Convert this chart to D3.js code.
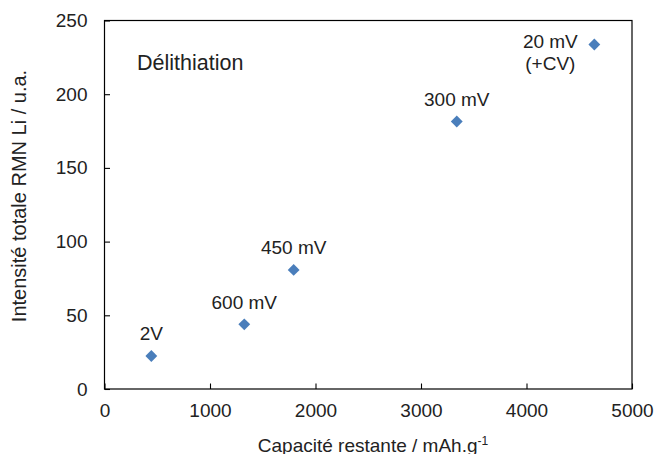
<!DOCTYPE html>
<html>
<head>
<meta charset="utf-8">
<script src="https://cdn.jsdelivr.net/npm/d3@7"></script>
<style>
  body { margin: 0; background: #fff; }
  svg text { font-family: "Liberation Sans", Arial, sans-serif; fill: #222; }
</style>
</head>
<body>
<svg width="654" height="454"></svg>
<script>
// capacity (mAh/g) vs total Li NMR intensity, one point per potential
var capacite  = [444, 1325, 1793, 3339, 4643];
var intensite = [22.4, 43.9, 80.8, 181.5, 233.7];
var labels    = ["2V", "600 mV", "450 mV", "300 mV", "20 mV\n(+CV)"];

var xTicks = [0, 1000, 2000, 3000, 4000, 5000];
var yTicks = [0, 50, 100, 150, 200, 250];

var svg = d3.select("svg");

var plotL = 104.5, plotR = 632, plotT = 20.5, plotB = 389;

var x = d3.scaleLinear().domain([0, 5000]).range([plotL, plotR]);
var y = d3.scaleLinear().domain([0, 250]).range([plotB, plotT]);

// axes (ticks inside the box)
var gx = svg.append("g")
    .attr("transform", "translate(0," + plotB + ")")
    .call(d3.axisBottom(x).tickValues(xTicks).tickFormat(d3.format("d"))
      .tickSizeInner(-5.5).tickSizeOuter(0).tickPadding(15));
var gy = svg.append("g")
    .attr("transform", "translate(" + plotL + ",0)")
    .call(d3.axisLeft(y).tickValues(yTicks).tickFormat(d3.format("d"))
      .tickSizeInner(-5.5).tickSizeOuter(0).tickPadding(17));

[gx, gy].forEach(function(g) {
  g.select(".domain").remove();
  g.selectAll("line").attr("stroke", "#000").attr("stroke-width", 1.1);
  g.selectAll("text").attr("font-size", "19px").attr("fill", "#222")
    .attr("font-family", "'Liberation Sans', Arial, sans-serif");
});

// box
svg.append("rect")
    .attr("x", plotL).attr("y", plotT)
    .attr("width", plotR - plotL).attr("height", plotB - plotT)
    .attr("fill", "none").attr("stroke", "#000").attr("stroke-width", 1.2);

// points
var pts = capacite.map(function(c, i) { return {x: c, y: intensite[i], label: labels[i]}; });

svg.selectAll(".pt")
  .data(pts)
  .enter().append("path")
    .attr("class", "pt")
    .attr("d", d3.symbol().type(d3.symbolSquare).size(70))
    .attr("transform", function(d) { return "translate(" + x(d.x) + "," + y(d.y) + ") rotate(45)"; })
    .attr("fill", "#4a7ebb");

// point labels
pts.forEach(function(d) {
  var lines = d.label.split("\n");
  var t = svg.append("text")
      .attr("font-size", "19px")
      .attr("text-anchor", "middle");
  if (lines.length > 1) {
    // two-line label sits to the left of its point
    lines.forEach(function(l, j) {
      t.append("tspan")
        .attr("x", x(d.x) - 44)
        .attr("y", y(d.y) + 3.5 + j * 22)
        .text(l);
    });
  } else {
    t.attr("x", x(d.x)).attr("y", y(d.y) - 15.5).text(d.label);
  }
});

// in-plot title
svg.append("text")
    .attr("x", 137).attr("y", 69.5)
    .attr("font-size", "21.5px")
    .text("Délithiation");

// axis titles
var xt = svg.append("text")
    .attr("x", 373).attr("y", 452)
    .attr("text-anchor", "middle")
    .attr("font-size", "19px");
xt.append("tspan").text("Capacité restante / mAh.g");
xt.append("tspan").attr("font-size", "12px").attr("dy", "-7").text("-1");

svg.append("text")
    .attr("transform", "translate(26,196) rotate(-90)")
    .attr("text-anchor", "middle")
    .attr("font-size", "20px")
    .text("Intensité totale RMN Li / u.a.");
</script>
</body>
</html>
